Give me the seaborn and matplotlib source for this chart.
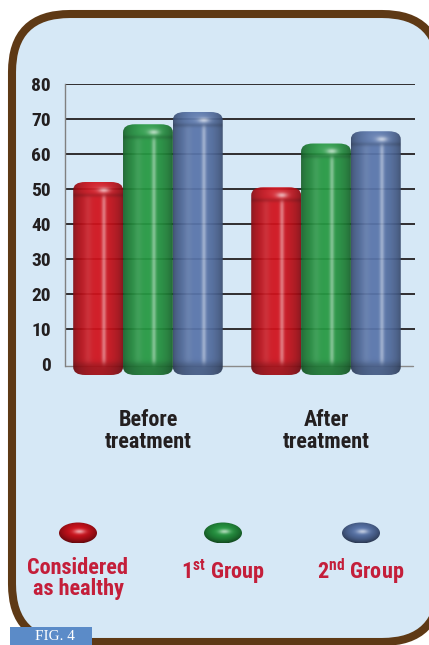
import numpy as np
import pandas as pd
import matplotlib
matplotlib.use("Agg")
import matplotlib.pyplot as plt
import seaborn as sns
from matplotlib.patches import FancyBboxPatch, Ellipse, Rectangle
from matplotlib import font_manager as fm

# ---------------- data ----------------
phases = ["Before\ntreatment", "After\ntreatment"]
groups = ["Considered as healthy", "1st Group", "2nd Group"]
legend_labels = ["Considered\nas healthy", "1$^{st}$ Group", "2$^{nd}$ Group"]
considered = [50, 48.5]
group1 = [66.5, 61]
group2 = [70, 64.5]
yticks = [0, 10, 20, 30, 40, 50, 60, 70, 80]

colors = {"Considered as healthy": (0.82, 0.07, 0.11),
          "1st Group": (0.15, 0.60, 0.26),
          "2nd Group": (0.35, 0.46, 0.67)}

df = pd.DataFrame({
    "phase": phases * 3,
    "group": [groups[0]] * 2 + [groups[1]] * 2 + [groups[2]] * 2,
    "value": considered + group1 + group2,
})

# ---------------- style ----------------
sns.set_style("white")
names = {f.name for f in fm.fontManager.ttflist}
cond = [n for n in ["Liberation Sans Narrow", "DejaVu Sans Condensed",
                    "Roboto Condensed", "Open Sans Condensed"] if n in names]
FAM = cond + ["DejaVu Sans"]
plt.rcParams["font.family"] = FAM
plt.rcParams["font.stretch"] = "condensed"
plt.rcParams["font.weight"] = "bold"
plt.rcParams["mathtext.fontset"] = "custom"
plt.rcParams["mathtext.rm"] = FAM[0] + ":bold"
plt.rcParams["mathtext.default"] = "rm"

W, H = 429, 645
fig = plt.figure(figsize=(W / 100, H / 100), dpi=100)
fig.patch.set_facecolor("white")

# background axes in pixel coordinates
bg = fig.add_axes([0, 0, 1, 1], zorder=0)
bg.set_xlim(0, W)
bg.set_ylim(H, 0)
bg.axis("off")
frame = FancyBboxPatch((12, 14), 428, 628,
                       boxstyle="round,pad=0,rounding_size=58",
                       fc="#d6e8f6", ec="#5e3915", lw=5.8)
bg.add_patch(frame)
bg.add_patch(Rectangle((10, 627), 82, 25, fc="#5b8bc8", ec="none", zorder=3))
bg.text(55, 630, "FIG. 4", color="white", fontsize=11, ha="center", va="top",
        family=["Liberation Serif", "DejaVu Serif"], fontweight="normal",
        fontstretch="normal", zorder=4)

# ---------------- main axes ----------------
PPX = 350 / 1.966
PPY = 3.5
ax = fig.add_axes([65 / W, 1 - 378 / H, 350 / W, 294 / H], zorder=1)
ax.set_facecolor("none")

sns.barplot(data=df, x="phase", y="value", hue="group", order=phases,
            hue_order=groups, palette=colors, width=0.84, saturation=1,
            errorbar=None, legend=False, ax=ax)


def cylinder(ax, x0, w, val, base):
    ytop = val + 7 / PPY
    ybot = -11 / PPY
    hpx = (ytop - ybot) * PPY
    ny, nx = int(hpx * 2), 120
    t = np.linspace(0, 1, nx)
    d = np.linspace(0, hpx, ny)
    T, D = np.meshgrid(t, d)
    base = np.array(base)
    f = 0.60 + 0.40 * np.sin(np.pi * T) ** 0.6
    body = 1 / (1 + np.exp(-(D - 14) / 1.2)) * (1 / (1 + np.exp((D - (hpx - 12)) / 1.5)))
    f = f * (1 - 0.15 * np.exp(-((D - 13) / 2.0) ** 2))
    f = f * (1 - 0.22 * (1 / (1 + np.exp(-(D - (hpx - 12)) / 1.5))))
    col = base[None, None, :] * f[..., None]
    L = body * (0.40 * np.exp(-((T - 0.62) / 0.045) ** 2)
                + 0.08 * np.exp(-((T - 0.30) / 0.08) ** 2))
    L += 0.55 * np.exp(-((T - 0.62) / 0.11) ** 2 - ((D - 8) / 2.6) ** 2)
    L += 0.10 * np.exp(-((T - 0.55) / 0.25) ** 2 - ((D - 6) / 5) ** 2)
    col = col + (1 - col) * L[..., None]
    col = np.clip(col, 0, 1)
    im = ax.imshow(col, extent=(x0, x0 + w, ybot, ytop), aspect="auto",
                   origin="upper", zorder=3, interpolation="bilinear", alpha=0.94)
    r = 12 / PPX
    clip = FancyBboxPatch((x0, ybot), w, ytop - ybot,
                          boxstyle=f"round,pad=0,rounding_size={r}",
                          mutation_aspect=(8 / PPY) / r,
                          transform=ax.transData, fc="none", ec="none")
    ax.add_patch(clip)
    im.set_clip_path(clip)


bars = list(ax.patches)
for p in bars:
    x0, w, h = p.get_x(), p.get_width(), p.get_height()
    base = p.get_facecolor()[:3]
    p.set_visible(False)
    cylinder(ax, x0, w, h, base)

ax.set_xlim(-0.466, 1.5)
ax.set_ylim(-4, 80)
ax.set_yticks(yticks)
ax.set_yticklabels([str(v) for v in yticks])
ax.grid(axis="y", color="#231f20", lw=1.3, zorder=1)
ax.grid(axis="x", visible=False)
ax.set_axisbelow(True)
ax.yaxis.get_gridlines()[0].set_visible(False)
ax.axhline(-0.6, xmin=0, xmax=0.995, color="#8a8a8a", lw=1.0, zorder=1)

for s in ["top", "right", "bottom"]:
    ax.spines[s].set_visible(False)
ax.spines["left"].set_color("#808080")
ax.spines["left"].set_linewidth(1.0)
ax.spines["left"].set_bounds(-0.6, 80)

ax.tick_params(axis="y", length=2, width=1.3, color="#231f20", pad=8,
               labelsize=14, labelcolor="#231f20")
ax.tick_params(axis="x", length=0, pad=22, labelsize=16, labelcolor="#231f20")
for lbl in ax.get_xticklabels():
    lbl.set_linespacing(1.05)
ax.set_xlabel("")
ax.set_ylabel("")

# ---------------- legend ----------------
leg_x = [78, 223, 361]
leg_y = 533
for cx, g, lab in zip(leg_x, groups, legend_labels):
    base = np.array(colors[g])
    X, Y = np.meshgrid(np.linspace(-1, 1, 80), np.linspace(-1, 1, 50))
    rr = X ** 2 + Y ** 2
    f = 1 - 0.38 * rr - 0.12 * Y
    col = base[None, None, :] * f[..., None]
    Lh = 0.6 * np.exp(-((X - 0.08) / 0.30) ** 2 - ((Y + 0.1) / 0.22) ** 2)
    col = np.clip(col + (1 - col) * Lh[..., None], 0, 1)
    im = bg.imshow(col, extent=(cx - 19, cx + 19, leg_y + 10.5, leg_y - 10.5),
                   aspect="auto", origin="upper", zorder=2, interpolation="bilinear")
    el = Ellipse((cx, leg_y), 38, 21, transform=bg.transData, fc="none", ec="none")
    bg.add_patch(el)
    im.set_clip_path(el)
    bg.text(cx, 557, lab, ha="center", va="top", color="#c41e3a",
            fontsize=16, linespacing=0.95, zorder=3)

bg.set_xlim(0, W)
bg.set_ylim(H, 0)

fig.savefig("out.png", dpi=100)
